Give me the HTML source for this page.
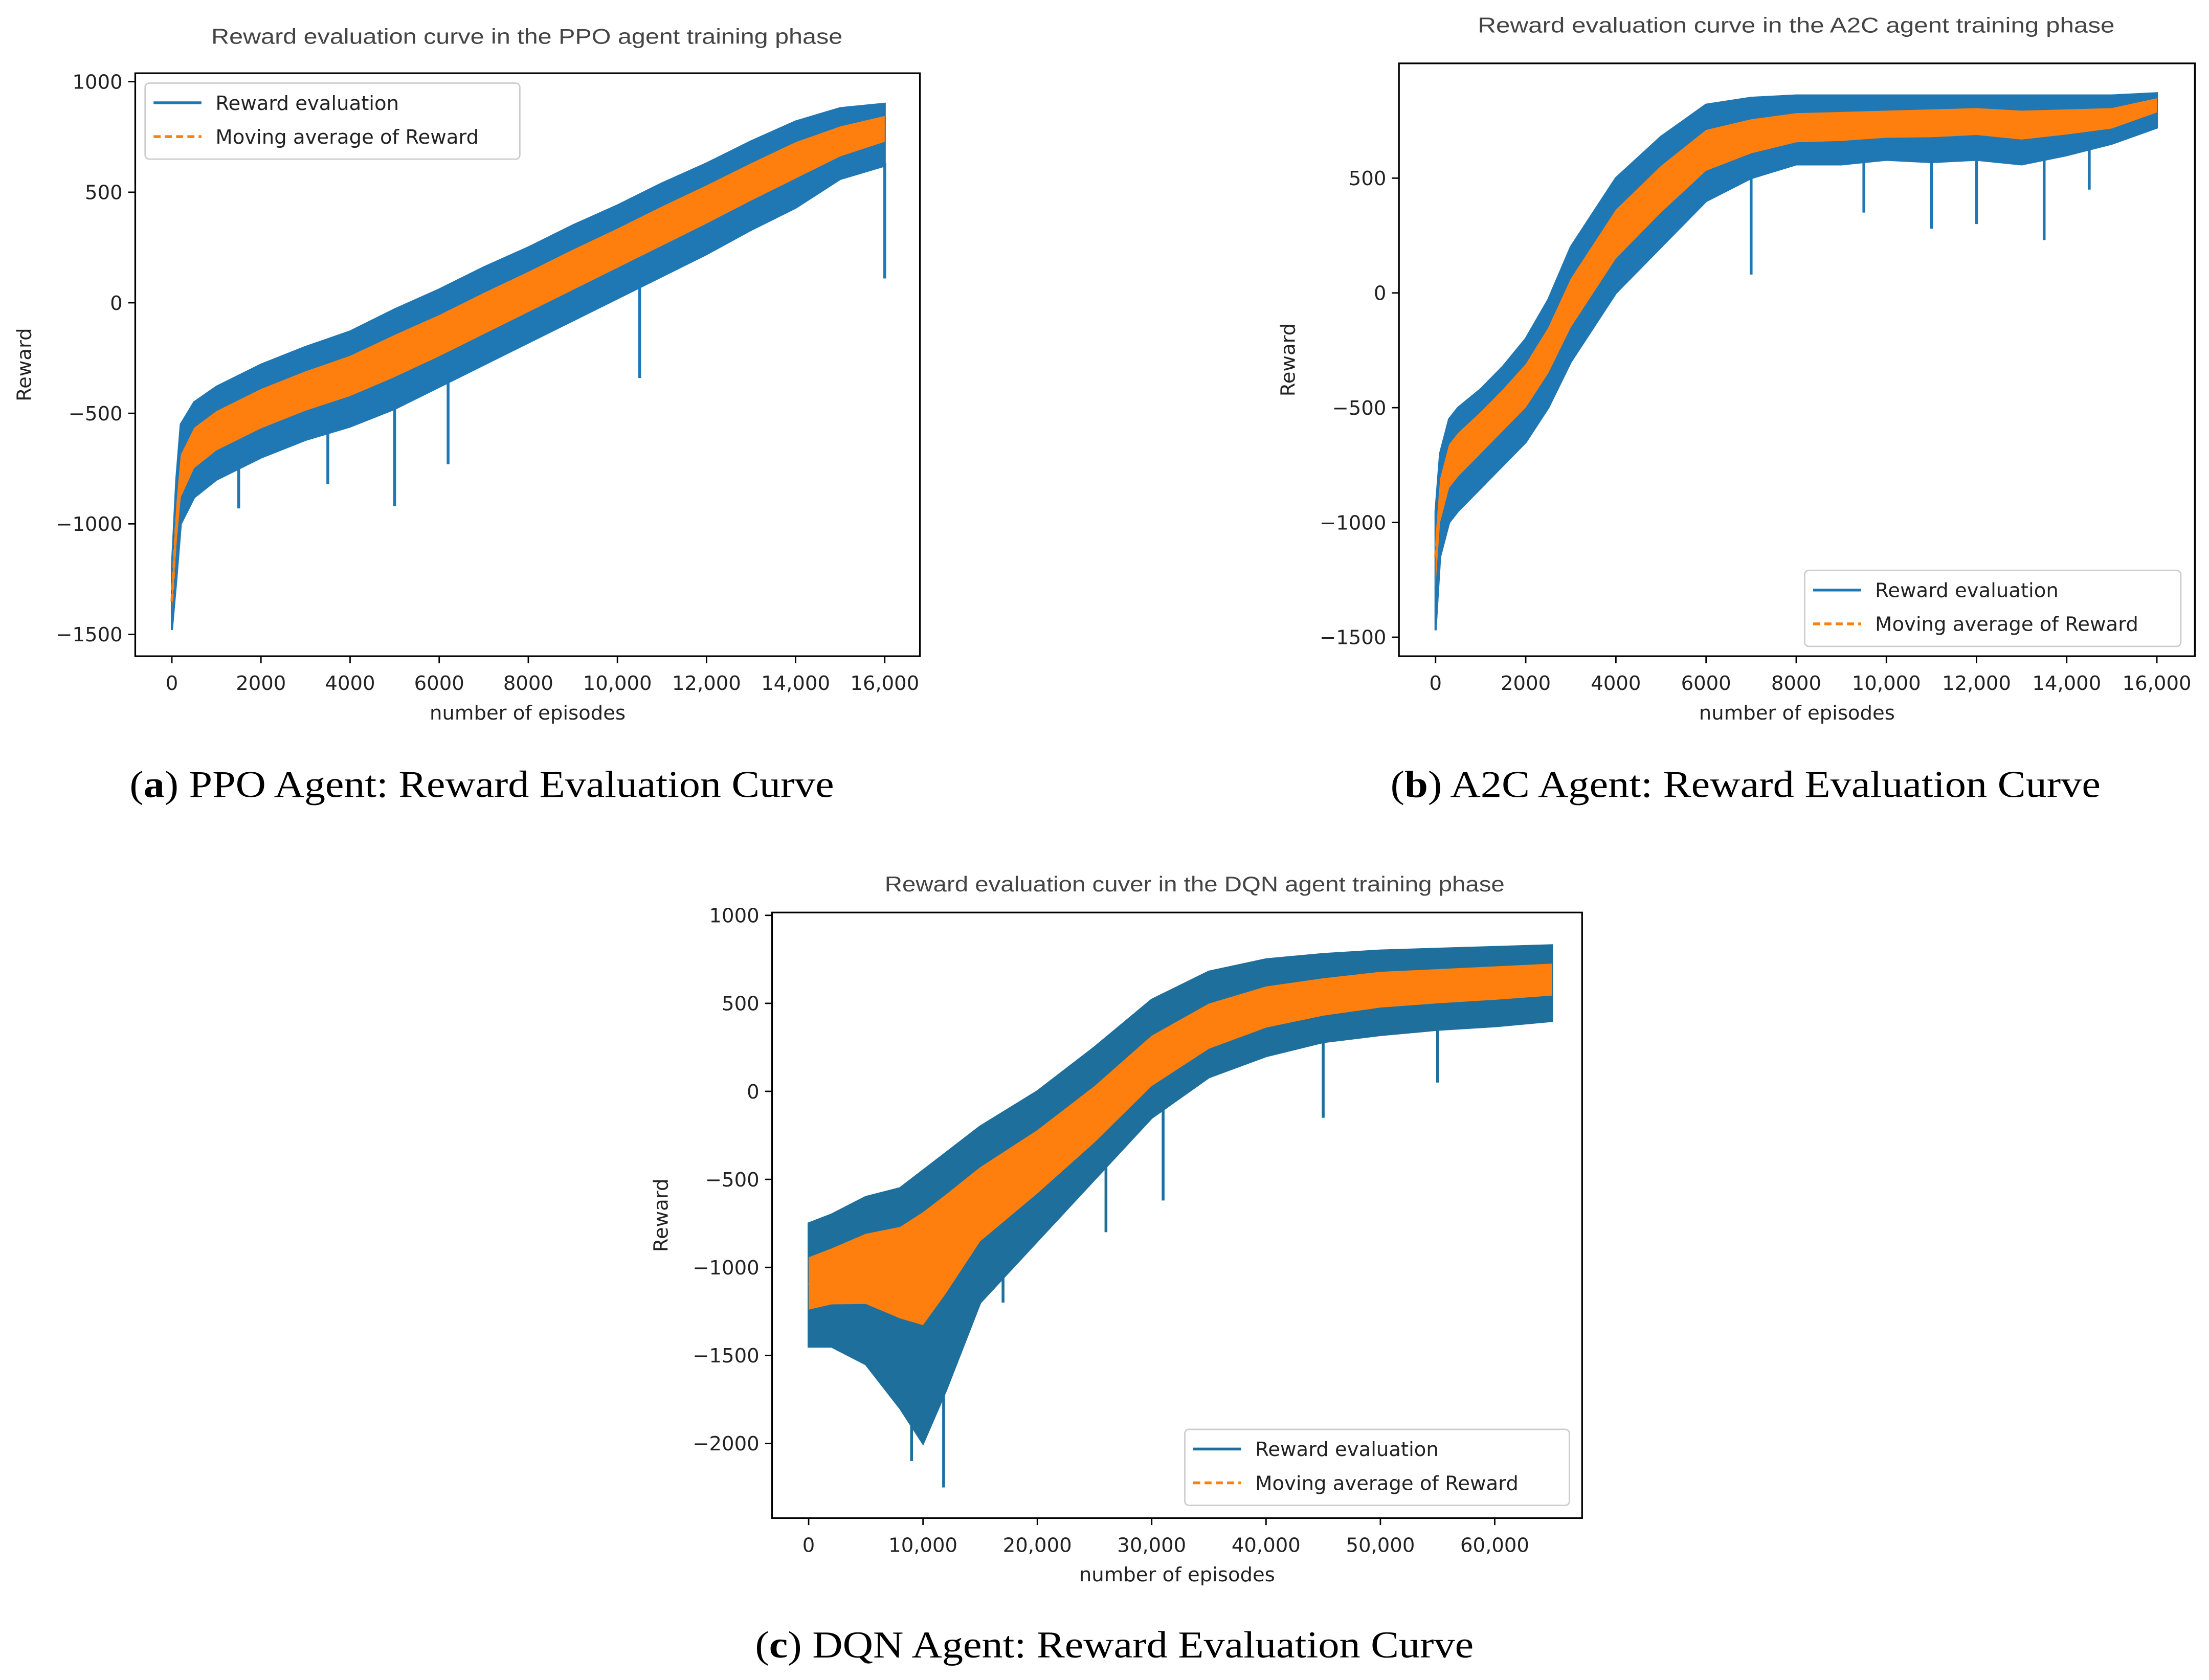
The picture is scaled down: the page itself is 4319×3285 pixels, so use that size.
<!DOCTYPE html>
<html><head><meta charset="utf-8"><style>
html,body{margin:0;padding:0;background:#fff}
svg{display:block}
text{font-family:"DejaVu Sans","Liberation Sans",sans-serif;fill:#222}
.cap{font-family:"Liberation Serif",serif;font-size:27px;fill:#000}
.tk{font-size:14px}
.ttl{font-size:15px;fill:#444;font-family:"Liberation Sans",sans-serif}
</style></head><body>
<svg id="root" width="4319" height="3285" viewBox="0 0 1568 1193" preserveAspectRatio="none" xmlns="http://www.w3.org/2000/svg">
<g id="charts"></g>
<text class="cap" x="92" y="566" textLength="500" lengthAdjust="spacingAndGlyphs">(<tspan font-weight="bold">a</tspan>) PPO Agent: Reward Evaluation Curve</text>
<text class="cap" x="987" y="566" textLength="504" lengthAdjust="spacingAndGlyphs">(<tspan font-weight="bold">b</tspan>) A2C Agent: Reward Evaluation Curve</text>
<text class="cap" x="536" y="1177" textLength="510" lengthAdjust="spacingAndGlyphs">(<tspan font-weight="bold">c</tspan>) DQN Agent: Reward Evaluation Curve</text>
</svg>
<script>
// ---- PPO data ----
const ppoX=[0,100,200,500,1000,2000,3000,4000,5000,6000,7000,8000,9000,10000,11000,12000,13000,14000,15000,16000];
const ppoMean=[-1350,-1000,-800,-660,-580,-480,-400,-330,-240,-150,-50,50,150,250,350,450,550,650,730,800];
const ppoUp=[-1200,-800,-550,-450,-380,-280,-200,-130,-30,60,160,250,350,440,540,630,730,820,880,900];
const ppoLo=[-1480,-1250,-1000,-880,-800,-700,-620,-560,-480,-380,-280,-180,-80,20,120,220,330,430,560,620];
const ppoSpikeX=[1500,3500,5000,6200,10500,16000];
const ppoSpikeY=[-930,-820,-920,-730,-340,110];
// ---- A2C data ----
const a2cX=[0,100,300,500,1000,1500,2000,2500,3000,3500,4000,5000,6000,7000,8000,9000,10000,11000,12000,13000,14000,15000,16000];
const a2cMean=[-1150,-900,-750,-700,-600,-500,-400,-250,-50,100,250,450,620,680,720,730,740,750,760,740,750,760,830];
const a2cUp=[-950,-700,-550,-500,-420,-320,-200,-30,200,350,500,680,820,850,860,860,860,860,860,860,860,860,870];
const a2cLo=[-1470,-1150,-1000,-950,-850,-750,-650,-500,-300,-150,0,200,400,500,560,560,580,570,580,560,600,650,720];
const a2cSpikeX=[7000,9500,11000,12000,13500,14500];
const a2cSpikeY=[80,350,280,300,230,450];
// ---- DQN data ----
const dqnX=[0,2000,5000,8000,10000,12000,15000,20000,25000,30000,35000,40000,45000,50000,55000,60000,65000];
const dqnMean=[-1100,-1050,-980,-950,-880,-780,-620,-400,-150,150,350,470,530,580,600,620,640];
const dqnUp=[-750,-700,-600,-550,-450,-350,-200,0,250,520,680,750,780,800,810,820,830];
const dqnLo=[-1450,-1450,-1550,-1800,-2000,-1700,-1200,-850,-500,-150,80,200,280,320,350,370,400];
const dqnSpikeX=[9000,11800,17000,26000,31000,45000,55000];
const dqnSpikeY=[-2100,-2250,-1200,-800,-620,-150,50];

const NS="http://www.w3.org/2000/svg";
const root=document.getElementById('charts');
function mk(tag,attrs,parent){const e=document.createElementNS(NS,tag);for(const k in attrs)e.setAttribute(k,attrs[k]);(parent||root).appendChild(e);return e;}
function interp(X,Y,x){for(let i=0;i<X.length-1;i++){if(x<=X[i+1]){const t=(x-X[i])/(X[i+1]-X[i]);return Y[i]+t*(Y[i+1]-Y[i]);}}return Y[Y.length-1];}

function chart(cfg){
  const g=mk('g',{});
  
  
  const sx=v=>cfg.x0px+(v-cfg.xmin)*(cfg.x1px-cfg.x0px)/(cfg.xmax-cfg.xmin);
  const sy=v=>cfg.y0px+(v-cfg.ymin)*(cfg.y1px-cfg.y0px)/(cfg.ymax-cfg.ymin);
  const B=cfg.box;
  const band=(up,lo)=>{let p=[];for(let i=0;i<cfg.X.length;i++)p.push(sx(cfg.X[i])+','+sy(up[i]));for(let i=cfg.X.length-1;i>=0;i--)p.push(sx(cfg.X[i])+','+sy(lo[i]));return p.join(' ');};
  const blue=mk('polygon',{points:band(cfg.up,cfg.lo),fill:cfg.blue,stroke:cfg.blue,'stroke-width':1.5},g);
  
  
  for(let i=0;i<cfg.sx.length;i++){
    const base=interp(cfg.X,cfg.lo,cfg.sx[i]);
    const s=mk('line',{x1:sx(cfg.sx[i]),x2:sx(cfg.sx[i]),y1:sy(base)-2,y2:sy(cfg.sy[i]),stroke:cfg.blue,'stroke-width':2},g);
    
    
  }
  const oUp=cfg.mean.map((m,i)=>m+(cfg.up[i]-m)*0.45);
  const oLo=cfg.mean.map((m,i)=>m-(m-cfg.lo[i])*0.4);
  const orng=mk('polygon',{points:band(oUp,oLo),fill:'#ff7f0e'},g);
  
  
  const ml=mk('polyline',{points:cfg.X.map((x,i)=>sx(x)+','+sy(cfg.mean[i])).join(' '),fill:'none',stroke:'#ff7f0e','stroke-width':2,'stroke-dasharray':'5,3'},g);
  
  
  const fr=mk('rect',{x:B[0],y:B[1],width:B[2]-B[0],height:B[3]-B[1],fill:'none',stroke:'#000','stroke-width':1.2},g);
  
  
  cfg.yt.forEach(v=>{
    mk('line',{x1:B[0]-5,x2:B[0],y1:sy(v),y2:sy(v),stroke:'#000'},g);
    const t=mk('text',{x:B[0]-9,y:sy(v)+5,'text-anchor':'end',class:'tk'},g);t.textContent=v<0?'\u2212'+(-v):v;
    
    
  });
  cfg.xt.forEach((v,i)=>{
    mk('line',{x1:sx(v),x2:sx(v),y1:B[3],y2:B[3]+5,stroke:'#000'},g);
    const t=mk('text',{x:sx(v),y:B[3]+24,'text-anchor':'middle',class:'tk'},g);t.textContent=cfg.xl[i];
    
    
  });
  const xt=mk('text',{x:(B[0]+B[2])/2,y:B[3]+45,'text-anchor':'middle',class:'tk'},g);xt.textContent='number of episodes';
  
  
  const yx=B[0]-cfg.ylabOff, yy=(B[1]+B[3])/2;
  const yt=mk('text',{x:yx,y:yy,'text-anchor':'middle',class:'tk',transform:`rotate(-90 ${yx} ${yy})`},g);yt.textContent='Reward';
  
  
  const tt=mk('text',{x:cfg.tx,y:cfg.ty,class:'ttl',textLength:cfg.tw,lengthAdjust:'spacingAndGlyphs'},g);tt.textContent=cfg.title;
  
  
  const L=cfg.leg;
  const lg=mk('g',{},g);
  
  
  mk('rect',{x:L[0],y:L[1],width:L[2],height:54,rx:3,fill:'#fff','fill-opacity':0.85,stroke:'#ccc'},lg);
  mk('line',{x1:L[0]+6,x2:L[0]+40,y1:L[1]+14,y2:L[1]+14,stroke:cfg.blue,'stroke-width':2},lg);
  mk('line',{x1:L[0]+6,x2:L[0]+40,y1:L[1]+38,y2:L[1]+38,stroke:'#ff7f0e','stroke-width':2,'stroke-dasharray':'5,3'},lg);
  const a=mk('text',{x:L[0]+50,y:L[1]+19,class:'tk'},lg);a.textContent='Reward evaluation';
  
  
  const b=mk('text',{x:L[0]+50,y:L[1]+43,class:'tk'},lg);b.textContent='Moving average of Reward';
  
  
}
chart({name:'ppo-chart',X:ppoX,mean:ppoMean,up:ppoUp,lo:ppoLo,sx:ppoSpikeX,sy:ppoSpikeY,blue:'#1f77b4',
  xmin:0,xmax:16000,x0px:122,x1px:628,ymin:0,ymax:-1000,y0px:215,y1px:372,box:[96,52,653,466],
  yt:[1000,500,0,-500,-1000,-1500],xt:[0,2000,4000,6000,8000,10000,12000,14000,16000],
  xl:['0','2000','4000','6000','8000','10,000','12,000','14,000','16,000'],ylabOff:74,
  title:'Reward evaluation curve in the PPO agent training phase',tx:150,ty:31,tw:448,leg:[103,59,266]});
chart({name:'a2c-chart',X:a2cX,mean:a2cMean,up:a2cUp,lo:a2cLo,sx:a2cSpikeX,sy:a2cSpikeY,blue:'#1f77b4',
  xmin:0,xmax:16000,x0px:1019,x1px:1531,ymin:0,ymax:-1000,y0px:208,y1px:371,box:[993,45,1558,466],
  yt:[500,0,-500,-1000,-1500],xt:[0,2000,4000,6000,8000,10000,12000,14000,16000],
  xl:['0','2000','4000','6000','8000','10,000','12,000','14,000','16,000'],ylabOff:74,
  title:'Reward evaluation curve in the A2C agent training phase',tx:1049,ty:23,tw:452,leg:[1281,405,267]});
chart({name:'dqn-chart',X:dqnX,mean:dqnMean,up:dqnUp,lo:dqnLo,sx:dqnSpikeX,sy:dqnSpikeY,blue:'#1f6f9c',
  xmin:0,xmax:60000,x0px:574,x1px:1061,ymin:0,ymax:-1000,y0px:775,y1px:900,box:[548,648,1123,1078],
  yt:[1000,500,0,-500,-1000,-1500,-2000],xt:[0,10000,20000,30000,40000,50000,60000],
  xl:['0','10,000','20,000','30,000','40,000','50,000','60,000'],ylabOff:74,
  title:'Reward evaluation  cuver in  the DQN agent training phase',tx:628,ty:633,tw:440,leg:[841,1015,273]});
</script>
</body></html>
